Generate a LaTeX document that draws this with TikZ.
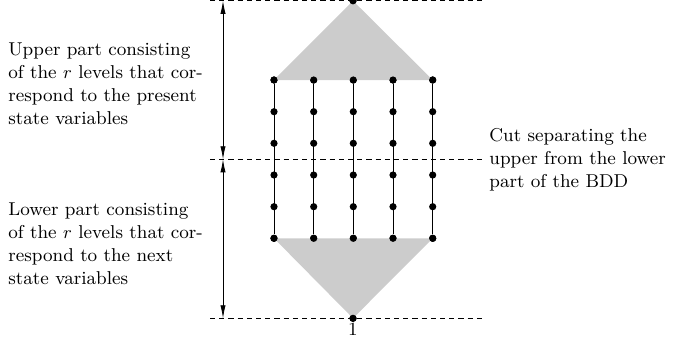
\documentclass[tikz,border=0pt]{standalone}
\usetikzlibrary{arrows.meta}
\newcommand{\notefont}{\fontsize{9.3pt}{11.4pt}\selectfont}
\begin{document}
\begin{tikzpicture}[x=0.5pt,y=-0.5pt,
  bddnode/.style={circle,fill=black,inner sep=0pt,minimum size=3.6pt},
  cutline/.style={line width=0.5pt,dash pattern=on 2.6pt off 2pt},
  levelline/.style={line width=0.5pt},
  part/.style={fill=black!20,draw=none},
  span/.style={line width=0.4pt,{Latex[length=6.5pt,width=2.6pt]}-{Latex[length=6.5pt,width=2.6pt]}},
  note/.style={anchor=base west,inner sep=0pt,font=\notefont}]
\useasboundingbox (0,0) rectangle (674,338);

% horizontal cuts
\coordinate (c1l) at (210,0.8);   \coordinate (c1r) at (484,0.8);
\coordinate (c2l) at (210,159.3); \coordinate (c2r) at (484,159.3);
\coordinate (c3l) at (210,318.3); \coordinate (c3r) at (484,318.3);

% root and terminal
\node[bddnode] (root) at (353,0.8) {};
\node[bddnode] (one) at (353,318.3) {};

% grid of level nodes
\foreach \i/\x in {1/274,2/313.7,3/353.3,4/393,5/432.7}{
  \foreach \j/\y in {1/80,2/111.7,3/143.3,4/175,5/206.7,6/238.3}{
    \node[bddnode] (d-\i-\j) at (\x,\y) {};
  }
}

% shaded upper and lower parts
\fill[part] (root.center) -- (d-1-1.center) -- (d-5-1.center) -- cycle;
\fill[part] (d-1-6.center) -- (d-5-6.center) -- (one.center) -- cycle;

% vertical chains
\foreach \i in {1,...,5}{
  \draw[levelline] (d-\i-1) -- (d-\i-6);
}

\draw[cutline] (c1l) -- (c1r);
\draw[cutline] (c2l) -- (c2r);
\draw[cutline] (c3l) -- (c3r);

% redraw nodes over the shading and cuts
\node[bddnode] at (root) {};
\node[bddnode] at (one) {};
\foreach \i in {1,...,5}{ \node[bddnode] at (d-\i-1) {}; \node[bddnode] at (d-\i-6) {}; }

% extent arrows
\coordinate (atop) at (223,0.8);
\coordinate (amid) at (223,159.3);
\coordinate (abot) at (223,318.3);
\draw[span] (atop) -- (amid);
\draw[span] (amid) -- (abot);

% labels
\node[anchor=base,inner sep=0pt,font=\notefont] (lbl1) at (353,335) {1};

\node[note] (upper) at (8,55.7) {\parbox[t]{110pt}{\raggedright\notefont
  Upper part consisting\\ of the $r$ levels that cor-\\ respond to the present\\ state variables}};
\node[note] (lower) at (8,215.7) {\parbox[t]{110pt}{\raggedright\notefont
  Lower part consisting\\ of the $r$ levels that cor-\\ respond to the next\\ state variables}};
\node[note] (cut) at (489,141.7) {\parbox[t]{100pt}{\raggedright\notefont
  Cut separating the\\ upper from the lower\\ part of the BDD}};
\end{tikzpicture}
\end{document}
